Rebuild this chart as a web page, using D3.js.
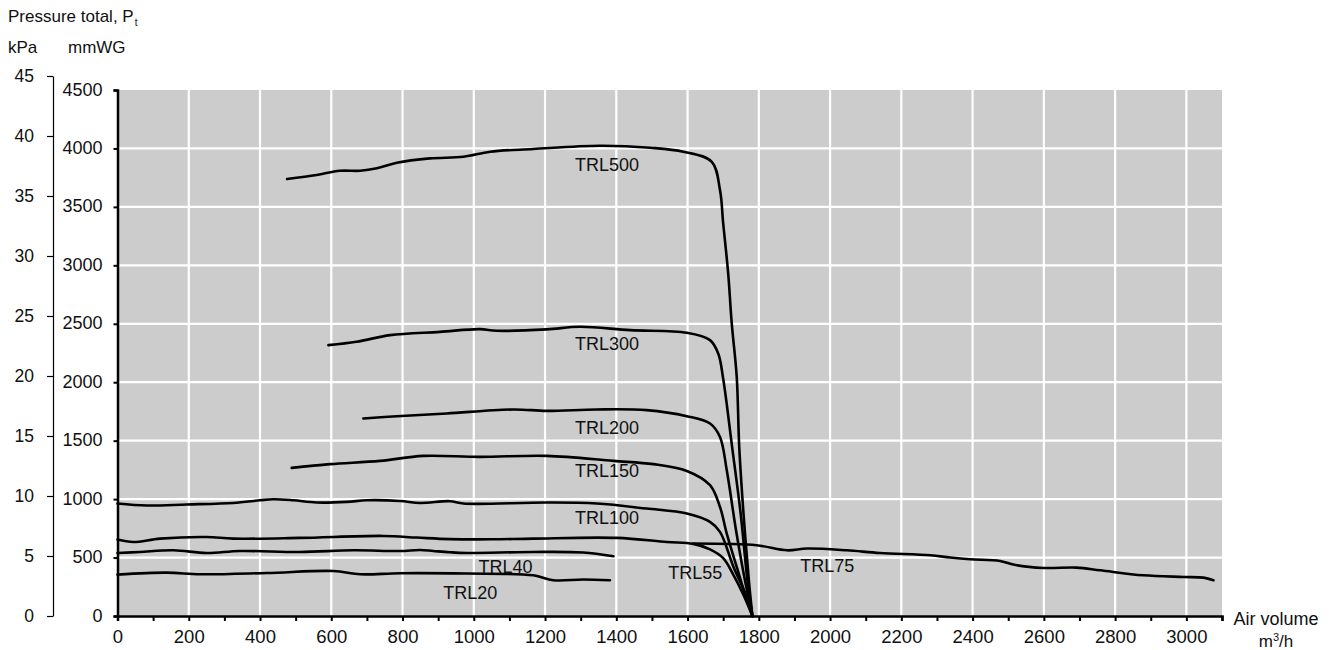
<!DOCTYPE html>
<html>
<head>
<meta charset="utf-8">
<script src="https://cdn.jsdelivr.net/npm/d3@7/dist/d3.min.js"></script>
<style>
  html, body { margin: 0; padding: 0; background: #ffffff; }
  svg { display: block; }
  text { font-family: "Liberation Sans", Arial, Helvetica, sans-serif; fill: #111; }
</style>
</head>
<body>
<svg id="chart" width="1331" height="650"></svg>
<script>
// ---- Data (air volume m3/h, pressure mmWG) ----
const seriesNames = ["TRL500", "TRL300", "TRL200", "TRL150", "TRL100", "TRL55", "TRL40", "TRL20", "TRL75"];

const trl500 = [[476,3738],[559,3773],[624,3809],[681,3809],[728,3830],[784,3878],[877,3915],[971,3929],[1046,3972],[1167,3995],[1354,4023],[1495,4006],[1588,3972],[1668,3886],[1691,3644],[1700,3359],[1714,2931],[1724,2503],[1738,2046],[1745,1447],[1757,877],[1772,306],[1782,0]];
const trl300 = [[592,2317],[671,2346],[765,2403],[905,2431],[1017,2454],[1064,2440],[1205,2452],[1298,2474],[1439,2446],[1598,2423],[1663,2360],[1686,2246],[1700,2030],[1725,1447],[1749,877],[1768,306],[1782,0]];
const trl200 = [[690,1690],[784,1709],[924,1733],[1111,1767],[1205,1755],[1345,1767],[1485,1761],[1598,1709],[1663,1647],[1691,1532],[1710,1247],[1736,734],[1761,306],[1782,0]];
const trl150 = [[489,1267],[596,1299],[737,1327],[858,1370],[1017,1361],[1205,1370],[1392,1327],[1504,1299],[1598,1241],[1663,1119],[1691,933],[1710,705],[1740,400],[1765,150],[1782,0]];
const trl100 = [[0,962],[82,945],[194,954],[325,967],[400,990],[437,999],[493,990],[559,971],[643,976],[700,990],[793,984],[849,967],[933,982],[971,962],[1205,971],[1345,962],[1485,919],[1598,877],[1663,805],[1691,720],[1729,419],[1766,163],[1782,0]];
const trl55 = [[0,654],[44,633],[119,662],[250,676],[325,662],[512,668],[746,685],[840,671],[933,658],[1050,656],[1167,662],[1401,668],[1542,633],[1616,617],[1663,570],[1700,495],[1729,350],[1757,180],[1782,0]];
const trl40 = [[0,539],[63,548],[157,562],[250,539],[344,556],[512,548],[662,562],[793,556],[849,565],[886,556],[933,545],[980,539],[1167,548],[1307,543],[1392,511]];
const trl20 = [[0,354],[138,371],[232,357],[419,368],[606,385],[681,357],[793,366],[980,363],[1167,348],[1223,306],[1307,312],[1382,306]];
const trl75 = [[1616,620],[1794,605],[1879,562],[1935,577],[2047,562],[2140,539],[2281,520],[2337,500],[2393,485],[2477,471],[2514,440],[2599,411],[2692,414],[2758,391],[2879,348],[2992,334],[3048,328],[3076,306]];

const seriesValues = [trl500, trl300, trl200, trl150, trl100, trl55, trl40, trl20, trl75];

// label anchor points in data units (air volume, mmWG)
const labelAnchors = [[1284,3807],[1284,2274],[1284,1556],[1284,1189],[1284,791],[1546,320],[1013,372],[914,149],[1916,377]];

const xTicks = d3.range(0, 3101, 100);
const xTickLabels = d3.range(0, 3001, 200);
const yTicksMm = d3.range(0, 4501, 500);
const yTicksKpa = [0, 5, 10, 15, 20, 25, 30, 35, 40, 45];

// ---- Layout ----
const svg = d3.select("#chart");
const x = d3.scaleLinear().domain([0, 3100]).range([117.5, 1222]);
const y = d3.scaleLinear().domain([0, 4500]).range([616, 90]);
const yK = d3.scaleLinear().domain([0, 45]).range([616, 76]);

// background
svg.append("rect")
  .attr("x", x(0)).attr("y", y(4500))
  .attr("width", x(3100) - x(0)).attr("height", y(0) - y(4500))
  .attr("fill", "#cccccc");

// grid
const grid = svg.append("g").attr("stroke", "#ffffff").attr("stroke-width", 2.2);
grid.selectAll("line.v").data(xTickLabels.filter(d => d > 0)).join("line")
  .attr("x1", d => x(d)).attr("x2", d => x(d))
  .attr("y1", y(4500)).attr("y2", y(0));
grid.selectAll("line.h").data(yTicksMm.filter(d => d > 0 && d < 4500)).join("line")
  .attr("x1", x(0)).attr("x2", x(3100))
  .attr("y1", d => y(d)).attr("y2", d => y(d));

// x axis
const xAxis = d3.axisBottom(x).tickValues(xTicks).tickSize(5)
  .tickFormat(d => (d % 200 === 0 && d <= 3000) ? String(d) : "");
const gx = svg.append("g").attr("transform", `translate(0,${y(0)})`).call(xAxis);
gx.select(".domain").attr("stroke", "#000").attr("stroke-width", 2.5);
gx.selectAll(".tick line").attr("stroke", "#000").attr("stroke-width", 2);
gx.selectAll(".tick text").attr("font-size", 18.5).attr("font-family", "Liberation Sans, Arial, sans-serif")
  .attr("fill", "#111").attr("dy", "1.05em").attr("y", 8);

// mmWG axis
const yAxis = d3.axisLeft(y).tickValues(yTicksMm).tickSize(4).tickPadding(10).tickFormat(d3.format("d"));
const gy = svg.append("g").attr("transform", `translate(${x(0)},0)`).call(yAxis);
gy.select(".domain").attr("stroke", "#000").attr("stroke-width", 2.5);
gy.selectAll(".tick line").attr("stroke", "#000").attr("stroke-width", 2);
gy.selectAll(".tick text").attr("font-size", 18).attr("font-family", "Liberation Sans, Arial, sans-serif")
  .attr("fill", "#111").attr("x", -15).attr("dy", "0.28em");

// kPa axis
const kAxis = d3.axisLeft(yK).tickValues(yTicksKpa).tickSize(6).tickSizeOuter(0).tickPadding(12).tickFormat(d3.format("d"));
const gk = svg.append("g").attr("transform", "translate(53,0)").call(kAxis);
gk.select(".domain").attr("stroke", "#000").attr("stroke-width", 1.2);
gk.selectAll(".tick line").attr("stroke", "#000").attr("stroke-width", 1.2);
gk.selectAll(".tick text").attr("font-size", 17.5).attr("font-family", "Liberation Sans, Arial, sans-serif")
  .attr("fill", "#111").attr("x", -19);

// curves
const line = d3.line().x(d => x(d[0])).y(d => y(d[1])).curve(d3.curveCatmullRom.alpha(0.5));
svg.append("g").selectAll("path").data(seriesValues).join("path")
  .attr("d", line)
  .attr("fill", "none").attr("stroke", "#000").attr("stroke-width", 2.6)
  .attr("stroke-linejoin", "round").attr("stroke-linecap", "round");

// curve labels
svg.append("g").selectAll("text").data(seriesNames).join("text")
  .attr("x", (d, i) => x(labelAnchors[i][0]))
  .attr("y", (d, i) => y(labelAnchors[i][1]))
  .attr("font-size", 18)
  .text(d => d);

// titles
const t = svg.append("text").attr("x", 8).attr("y", 22).attr("font-size", 17);
t.append("tspan").text("Pressure total, P");
t.append("tspan").attr("font-size", 10).attr("dy", 4).attr("dx", 1).text("t");

svg.append("text").attr("x", 8).attr("y", 53).attr("font-size", 17).text("kPa");
svg.append("text").attr("x", 68).attr("y", 53).attr("font-size", 17).text("mmWG");

svg.append("text").attr("x", 1276).attr("y", 625).attr("font-size", 18)
  .attr("text-anchor", "middle").text("Air volume");
const u = svg.append("text").attr("x", 1276).attr("y", 647).attr("font-size", 17)
  .attr("text-anchor", "middle");
u.append("tspan").text("m");
u.append("tspan").attr("font-size", 11).attr("dy", -6).text("3");
u.append("tspan").attr("dy", 6).text("/h");
</script>
</body>
</html>
